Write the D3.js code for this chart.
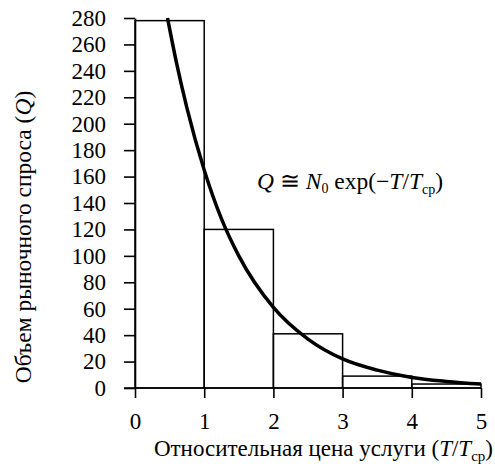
<!DOCTYPE html>
<html>
<head>
<meta charset="utf-8">
<script src="https://cdn.jsdelivr.net/npm/d3@7"></script>
<style>
  body { margin: 0; background: #fff; }
</style>
</head>
<body>
<div id="chart"></div>
<script>
// гистограмма: интервалы относительной цены и высоты столбцов
const binStart = [0, 1, 2, 3, 4];
const binEnd = [1, 2, 3, 4, 5];
const binValue = [278, 120, 41, 9, 3];

// точки кривой
const curveT = [0.47, 0.6, 0.75, 1, 1.25, 1.5, 2, 2.5, 3, 3.5, 4, 4.5, 5];
const curveQ = [280, 246, 212, 165, 128, 100, 61, 37, 22, 13.5, 8, 5, 3];

const yTicks = [0, 20, 40, 60, 80, 100, 120, 140, 160, 180, 200, 220, 240, 260, 280];
const xTicks = [0, 1, 2, 3, 4, 5];

const W = 495, H = 471;
const margin = { top: 18, right: 14, bottom: 83, left: 135 };
const FONT = "Liberation Serif";

const svg = d3.select("#chart").append("svg")
  .attr("width", W)
  .attr("height", H)
  .attr("font-family", FONT);

const x = d3.scaleLinear().domain([0, 5]).range([margin.left, W - margin.right]);
const y = d3.scaleLinear().domain([0, 280]).range([H - margin.bottom, margin.top]);

// столбцы
svg.append("g")
  .selectAll("rect")
  .data(binValue)
  .enter()
  .append("rect")
  .attr("x", (d, i) => x(binStart[i]))
  .attr("y", (d) => y(d))
  .attr("width", (d, i) => x(binEnd[i]) - x(binStart[i]))
  .attr("height", (d) => y(0) - y(d))
  .attr("fill", "none")
  .attr("stroke", "#000")
  .attr("stroke-width", 1.5);

function styleAxis(g) {
  g.attr("font-family", FONT).attr("font-size", 23);
  g.selectAll("path, line").attr("stroke", "#000").attr("stroke-width", 1.6);
  g.selectAll("text").attr("fill", "#000").attr("font-family", FONT).attr("font-size", 23);
}

// оси
svg.append("g")
  .attr("transform", `translate(0,${y(0)})`)
  .call(d3.axisBottom(x).tickValues(xTicks).tickFormat(d3.format("d")).tickSize(10).tickSizeOuter(0).tickPadding(15))
  .call((g) => g.select(".domain").attr("d", `M${x(0) - 11},0H${x(5)}`))
  .call(styleAxis);

svg.append("g")
  .attr("transform", `translate(${x(0)},0)`)
  .call(d3.axisLeft(y).tickValues(yTicks).tickSize(11).tickSizeOuter(0).tickPadding(18))
  .call(styleAxis);

// кривая
const line = d3.line()
  .x((d, i) => x(curveT[i]))
  .y((d) => y(d))
  .curve(d3.curveMonotoneX);

svg.append("path")
  .datum(curveQ)
  .attr("d", line)
  .attr("fill", "none")
  .attr("stroke", "#000")
  .attr("stroke-width", 3.5);

// подписи осей
const yTitle = svg.append("text")
  .attr("transform", `translate(31,237) rotate(-90)`)
  .attr("text-anchor", "middle")
  .attr("font-size", 23.5);
yTitle.append("tspan").text("Объем рыночного спроса (");
yTitle.append("tspan").attr("font-style", "italic").text("Q");
yTitle.append("tspan").text(")");

const xTitle = svg.append("text")
  .attr("x", 493)
  .attr("y", 456)
  .attr("text-anchor", "end")
  .attr("font-size", 23);
xTitle.append("tspan").text("Относительная цена услуги (");
xTitle.append("tspan").attr("font-style", "italic").text("T");
xTitle.append("tspan").text("/");
xTitle.append("tspan").attr("font-style", "italic").text("T");
xTitle.append("tspan").attr("font-size", 15).attr("dy", 5).text("ср");
xTitle.append("tspan").attr("dy", -5).text(")");

// формула
const formula = svg.append("text")
  .attr("x", 257)
  .attr("y", 189)
  .attr("font-size", 23.5);
formula.append("tspan").attr("font-style", "italic").text("Q");
formula.append("tspan").text(" \u2245 ");
formula.append("tspan").attr("font-style", "italic").text("N");
formula.append("tspan").attr("font-size", 14).attr("dy", 4).text("0");
formula.append("tspan").attr("dy", -4).text(" exp(\u2212");
formula.append("tspan").attr("font-style", "italic").text("T");
formula.append("tspan").text("/");
formula.append("tspan").attr("font-style", "italic").text("T");
formula.append("tspan").attr("font-size", 14).attr("dy", 5).text("ср");
formula.append("tspan").attr("dy", -5).text(")");
</script>
</body>
</html>
